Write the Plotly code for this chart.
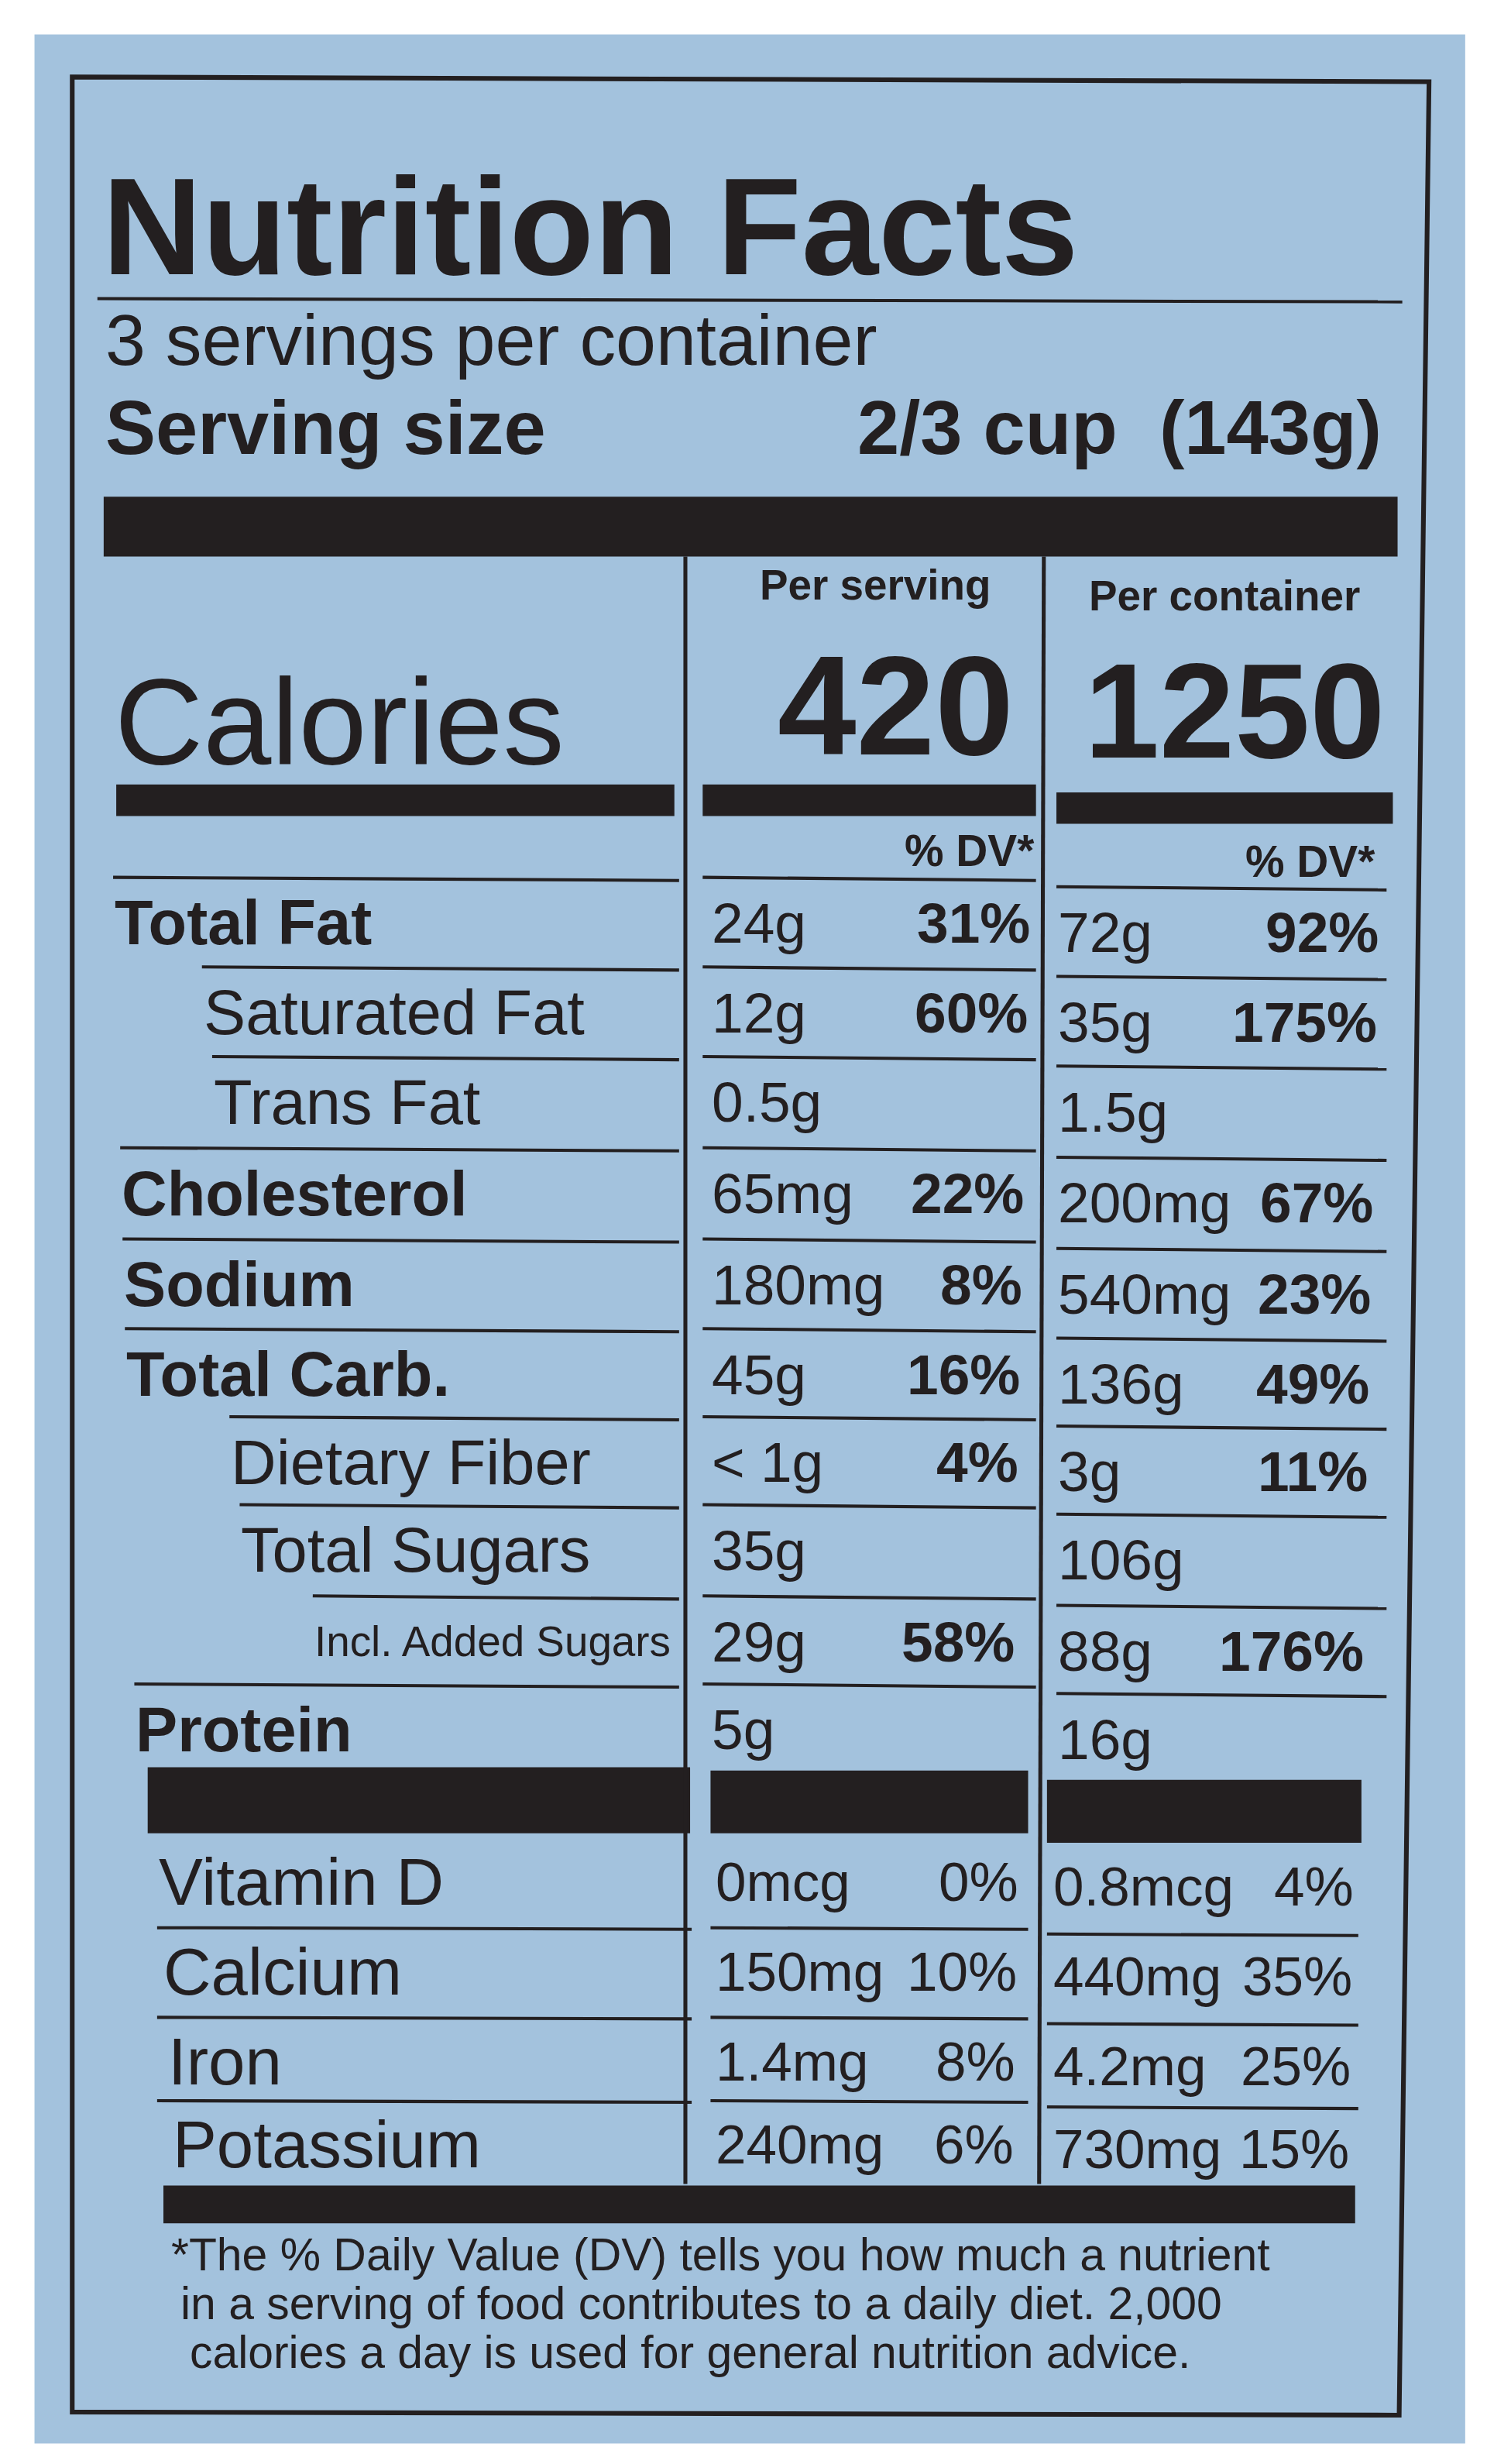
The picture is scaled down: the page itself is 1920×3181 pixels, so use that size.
import plotly.graph_objects as go

S = 2.03
title = "Nutrition Facts"
servings_text = "3 servings per container"
serving_size_label = "Serving size"
serving_size_value = "2/3 cup  (143g)"
calories_serving = "420"
calories_container = "1250"

row_labels = ["Total Fat", "Saturated Fat", "Trans Fat", "Cholesterol", "Sodium", "Total Carb.",
              "Dietary Fiber", "Total Sugars", "Incl. Added Sugars", "Protein"]
row_bold = [True, False, False, True, True, True, False, False, False, True]
row_indent = [0, 55, 60, 0, 0, 0, 65, 70, 115, 0]
serv_amt = ["24g", "12g", "0.5g", "65mg", "180mg", "45g", "< 1g", "35g", "29g", "5g"]
serv_dv = ["31%", "60%", "", "22%", "8%", "16%", "4%", "", "58%", ""]
cont_amt = ["72g", "35g", "1.5g", "200mg", "540mg", "136g", "3g", "106g", "88g", "16g"]
cont_dv = ["92%", "175%", "", "67%", "23%", "49%", "11%", "", "176%", ""]

vit_labels = ["Vitamin D", "Calcium", "Iron", "Potassium"]
vit_serv_amt = ["0mcg", "150mg", "1.4mg", "240mg"]
vit_serv_dv = ["0%", "10%", "8%", "6%"]
vit_cont_amt = ["0.8mcg", "440mg", "4.2mg", "730mg"]
vit_cont_dv = ["4%", "35%", "25%", "15%"]

footnote = ["*The % Daily Value (DV) tells you how much a nutrient",
            "in a serving of food contributes to a daily diet. 2,000",
            "calories a day is used for general nutrition advice."]

BOLD = "Liberation Sans"
NARROW = "Liberation Sans"
BG = "#a3c2dd"

shapes, anns = [], []

def rect(x0, y0, x1, y1, color="#231f20"):
    shapes.append(dict(type="rect", x0=x0*S, x1=x1*S, y0=y0*S, y1=y1*S, fillcolor=color, line_width=0, layer="below"))

def line(x0, y0, x1, y1, w=3):
    shapes.append(dict(type="line", x0=x0*S, x1=x1*S, y0=y0*S, y1=y1*S, line=dict(color="#231f20", width=w*S)))

def text(t, x, y, size, anchor="left", bold=False, font=BOLD):
    if bold:
        t = "<b>" + t + "</b>"
    anns.append(dict(text=t, x=x*S, y=y*S, xref="x", yref="y", showarrow=False, xanchor=anchor, yanchor="middle",
                     font=dict(size=size*S, family=font, color="#231f20")))

rect(18, 18, 928, 1550, BG)
shapes.append(dict(type="path", path=f"M {42*S} {45*S} L {905*S} {48*S} L {886*S} {1532*S} L {42*S} {1530*S} Z",
                   line=dict(color="#231f20", width=3*S)))

text(title, 60, 140, 88, bold=True)
line(58, 186, 888, 188, 2)
text(servings_text, 62, 212, 46)
text(serving_size_label, 62, 268, 48, bold=True)
text(serving_size_value, 876, 268, 48, anchor="right", bold=True)
rect(62, 312, 885, 350)

line(432, 350, 432, 1385, 2.5)
line(660, 350, 657, 1385, 2.5)
text("Per serving", 553, 368, 27, anchor="center", bold=True)
text("Per container", 775, 375, 27, anchor="center", bold=True)
text("Calories", 68, 455, 78, font=NARROW)
text(calories_serving, 642, 445, 90, anchor="right", bold=True)
text(calories_container, 878, 448, 86, anchor="right", bold=True)
rect(70, 495, 425, 515)
rect(443, 495, 655, 515)
rect(668, 500, 882, 520)
text("% DV*", 655, 537, 28, anchor="right", bold=True)
text("% DV*", 872, 544, 28, anchor="right", bold=True)

yc = [583, 640, 697, 755, 813, 870, 926, 982, 1040, 1096]
for i, lab in enumerate(row_labels):
    y = yc[i]
    top = y - 29
    lx = 68 + row_indent[i] + i * 1.5
    line(68 + (row_indent[i] if i > 0 else 0) + i*1.5, top, 428, top + 2, 2)
    line(443, top, 655, top + 2, 2)
    line(668, top + 6, 878, top + 8, 2)
    sz = 27 if i == 8 else 40
    text(lab, lx, y, sz, bold=row_bold[i], font=BOLD if row_bold[i] else NARROW)
    text(serv_amt[i], 448, y, 36, font=NARROW)
    if serv_dv[i]:
        text(serv_dv[i], 652 - i*1.2, y, 36, anchor="right", bold=True)
    text(cont_amt[i], 668, y + 6, 36, font=NARROW)
    if cont_dv[i]:
        text(cont_dv[i], 874 - i*1.2, y + 6, 36, anchor="right", bold=True)

rect(90, 1120, 435, 1162)
rect(448, 1122, 650, 1162)
rect(662, 1128, 862, 1168)

vy = [1193, 1250, 1307, 1360]
for i, lab in enumerate(vit_labels):
    y = vy[i]
    if i > 0:
        line(96, y - 28, 436, y - 27, 2)
        line(448, y - 28, 650, y - 27, 2)
        line(662, y - 24, 860, y - 23, 2)
    text(lab, 96 + i*3, y, 42, font="Liberation Sans")
    text(vit_serv_amt[i], 450, y, 35, font=NARROW)
    text(vit_serv_dv[i], 645 - i, y, 35, anchor="right", font=NARROW)
    text(vit_cont_amt[i], 665, y + 3, 35, font=NARROW)
    text(vit_cont_dv[i], 858 - i, y + 3, 35, anchor="right", font=NARROW)

rect(100, 1386, 858, 1410)
for i, t in enumerate(footnote):
    text(t, 104 + i*6, 1430 + i*31, 29, font=NARROW)

fig = go.Figure()
fig.update_layout(width=1920, height=3181, margin=dict(l=0, r=0, t=0, b=0),
                  paper_bgcolor="white", plot_bgcolor="white", shapes=shapes, annotations=anns,
                  xaxis=dict(range=[0, 1920], visible=False, fixedrange=True),
                  yaxis=dict(range=[3181, 0], visible=False, fixedrange=True), showlegend=False)
fig.write_html("out.html")
